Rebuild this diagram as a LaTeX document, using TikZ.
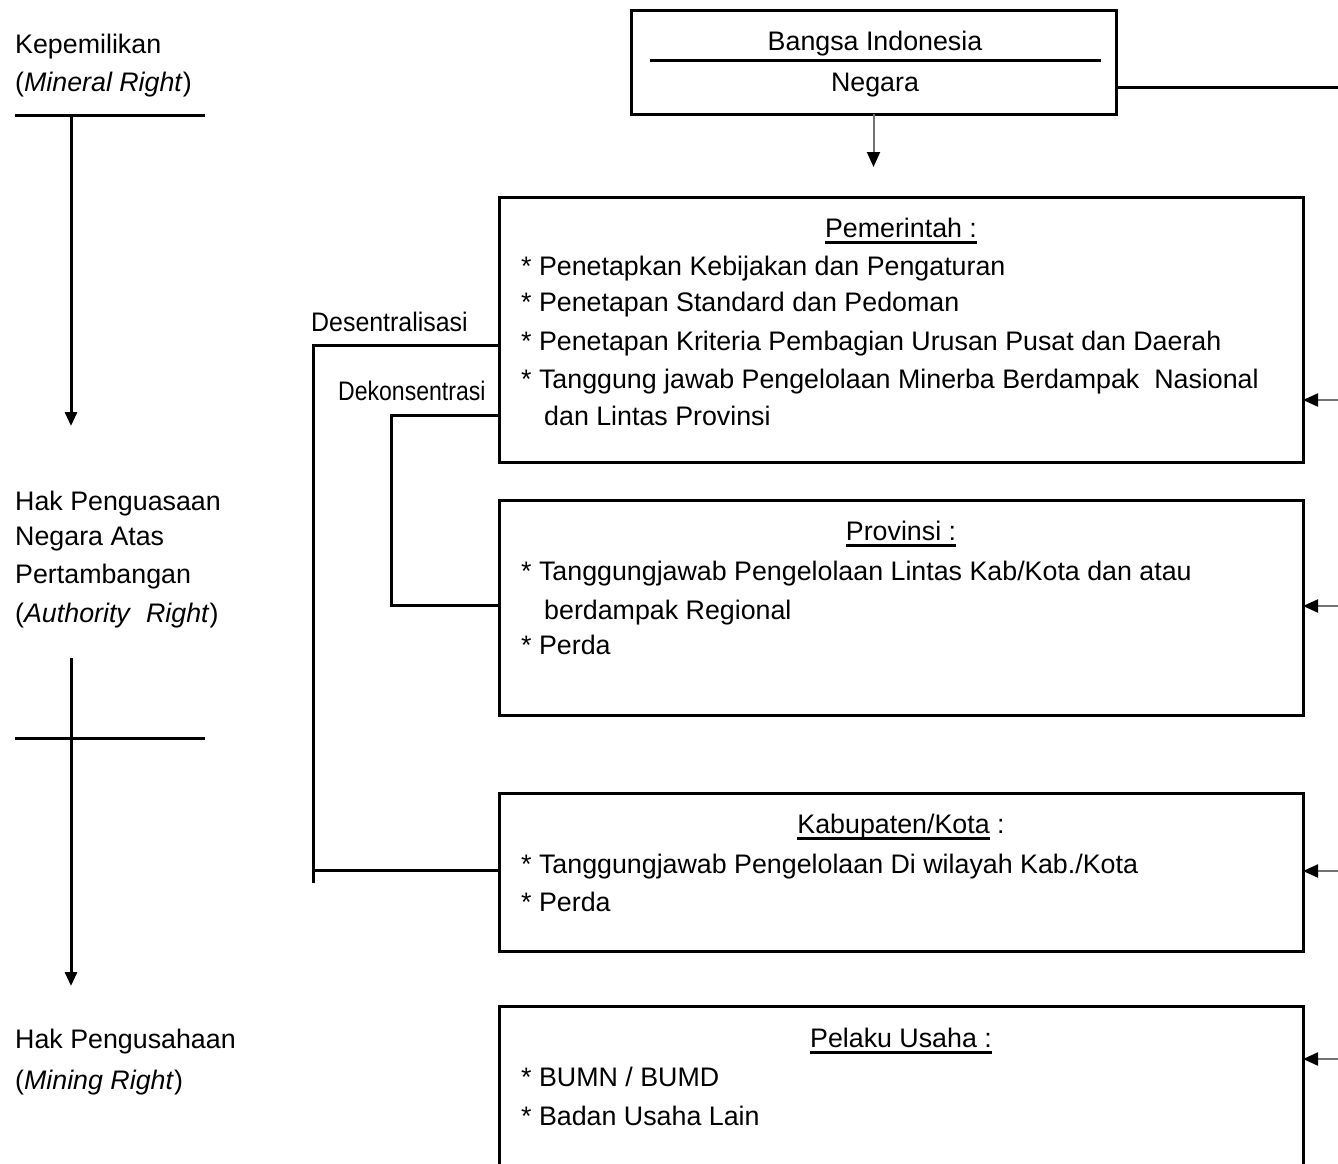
\documentclass[tikz,border=0pt]{standalone}
\usepackage{fontspec}
\setmainfont{Liberation Sans}
\usetikzlibrary{arrows.meta,positioning}
\newsavebox{\kotakteks}
\newcommand{\garisbawah}[1]{\sbox{\kotakteks}{#1}\rlap{\rule[-7pt]{\wd\kotakteks}{3pt}}\usebox{\kotakteks}}
\newcommand{\hurufbesar}{\fontsize{26.8pt}{32pt}\selectfont}

\begin{document}
\begin{tikzpicture}[x=1pt,y=-1pt]
	% `kotak' is used for the framed boxes, `teks' for the lines inside them.
	% `panahabu' is used for the thin grey arrows.
	\tikzstyle{kotak} = [draw,line width=3pt,outer sep=0pt,inner sep=0pt,anchor=north west]
	\tikzstyle{teks} = [inner sep=0pt,anchor=base west,font=\hurufbesar]
	\tikzstyle{judul} = [inner sep=0pt,anchor=base,font=\hurufbesar]
	\tikzstyle{garis} = [line width=3pt]
	\tikzstyle{panah} = [line width=3pt,-{Triangle[width=12pt,length=14pt]}]
	\tikzstyle{panahabu} = [draw=black!55,line width=2pt,-{Triangle[width=13pt,length=15pt,color=black]}]
	%
	\useasboundingbox (0,0) rectangle (1338,1163);
	\clip (0,0) rectangle (1338,1163);
	%
	% Boxes.
	\node[kotak,minimum width=485,minimum height=104] (negara) at (631,10) {};
	\node[kotak,minimum width=804,minimum height=265] (pemerintah) at (499,197) {};
	\node[kotak,minimum width=804,minimum height=215] (provinsi) at (499,500) {};
	\node[kotak,minimum width=804,minimum height=158] (kabupaten) at (499,793) {};
	\node[kotak,minimum width=804,minimum height=200] (pelaku) at (499,1006) {};
	%
	% Top box.
	\node[judul] (bangsa) at (875,50) {Bangsa Indonesia};
	\draw[garis] ([xshift=19pt,yshift=-50pt]negara.north west) -- ([xshift=-15pt,yshift=-50pt]negara.north east);
	\node[judul] (negaratxt) at (875,91) {Negara};
	%
	% Pemerintah.
	\node[judul] (pemjudul) at (901,237) {\garisbawah{Pemerintah :}};
	\node[teks] (pem1) at (521,275) {* Penetapkan Kebijakan dan Pengaturan};
	\node[teks] (pem2) at (521,311) {* Penetapan Standard dan Pedoman};
	\node[teks] (pem3) at (521,350) {* Penetapan Kriteria Pembagian Urusan Pusat dan Daerah};
	\node[teks] (pem4) at (521,388) {* Tanggung jawab Pengelolaan Minerba Berdampak\ \ Nasional};
	\node[teks] (pem5) at (544,425) {dan Lintas Provinsi};
	%
	% Provinsi.
	\node[judul] (provjudul) at (901,540) {\garisbawah{Provinsi :}};
	\node[teks] (prov1) at (521,580) {* Tanggungjawab Pengelolaan Lintas Kab/Kota dan atau};
	\node[teks] (prov2) at (544,619) {berdampak Regional};
	\node[teks] (prov3) at (521,654) {* Perda};
	%
	% Kabupaten/Kota.
	\node[judul] (kabjudul) at (901,833) {\garisbawah{Kabupaten/Kota} :};
	\node[teks] (kab1) at (521,873) {* Tanggungjawab Pengelolaan Di wilayah Kab./Kota};
	\node[teks] (kab2) at (521,911) {* Perda};
	%
	% Pelaku Usaha.
	\node[judul] (pelakujudul) at (901,1047) {\garisbawah{Pelaku Usaha :}};
	\node[teks] (pelaku1) at (521,1086) {* BUMN / BUMD};
	\node[teks] (pelaku2) at (521,1125) {* Badan Usaha Lain};
	%
	% Left column.
	\node[teks] (milik1) at (15,53) {Kepemilikan};
	\node[teks] (milik2) at (15,91) {(\textit{Mineral Right})};
	\node[teks] (kuasa1) at (15,510) {Hak Penguasaan};
	\node[teks] (kuasa2) at (15,545) {Negara Atas};
	\node[teks] (kuasa3) at (15,583) {Pertambangan};
	\node[teks] (kuasa4) at (15,622) {(\textit{Authority}\ \ \textit{Right})};
	\node[teks] (usaha1) at (15,1048) {Hak Pengusahaan};
	\node[teks] (usaha2) at (15,1089) {(\textit{Mining Right})};
	\coordinate (milikbawah) at (71,115);
	\coordinate (kuasaatas) at (71,426);
	\coordinate (kuasabawah) at (71,658);
	\coordinate (usahaatas) at (71,986);
	\draw[garis] (15,115) -- (205,115);
	\draw[garis] (15,738) -- (205,738);
	\draw[panah] (milikbawah) -- (kuasaatas);
	\draw[panah] (kuasabawah) -- (usahaatas);
	%
	% Desentralisasi and Dekonsentrasi.
	\node[teks,xscale=0.93] (desen) at (311,331) {Desentralisasi};
	\node[teks,xscale=0.86] (dekon) at (338,400) {Dekonsentrasi};
	\coordinate (desen1) at (313,345);
	\coordinate (desen2) at (313,870);
	\coordinate (desen3) at (313,883);
	\coordinate (dekon1) at (391,415);
	\coordinate (dekon2) at (391,605);
	\draw[garis] (pemerintah.west |- desen1) -- (desen1) -- (desen3);
	\draw[garis] (desen2) -- (kabupaten.west |- desen2);
	\draw[garis] (pemerintah.west |- dekon1) -- (dekon1) -- (dekon2) -- (provinsi.west |- dekon2);
	%
	% Arrows on the right and from the top box.
	\coordinate (ujung) at ([yshift=-53pt]negara.south);
	\draw[panahabu] (negara.south) -- (ujung);
	\coordinate (kanan0) at (1345,87);
	\coordinate (kanan1) at (1345,400);
	\coordinate (kanan2) at (1345,606);
	\coordinate (kanan3) at (1345,871);
	\coordinate (kanan4) at (1345,1059);
	\draw[garis] (negara.east |- kanan0) -- (kanan0);
	\draw[panahabu] (kanan1) -- (pemerintah.east |- kanan1);
	\draw[panahabu] (kanan2) -- (provinsi.east |- kanan2);
	\draw[panahabu] (kanan3) -- (kabupaten.east |- kanan3);
	\draw[panahabu] (kanan4) -- (pelaku.east |- kanan4);
%
\end{tikzpicture}
\end{document}
